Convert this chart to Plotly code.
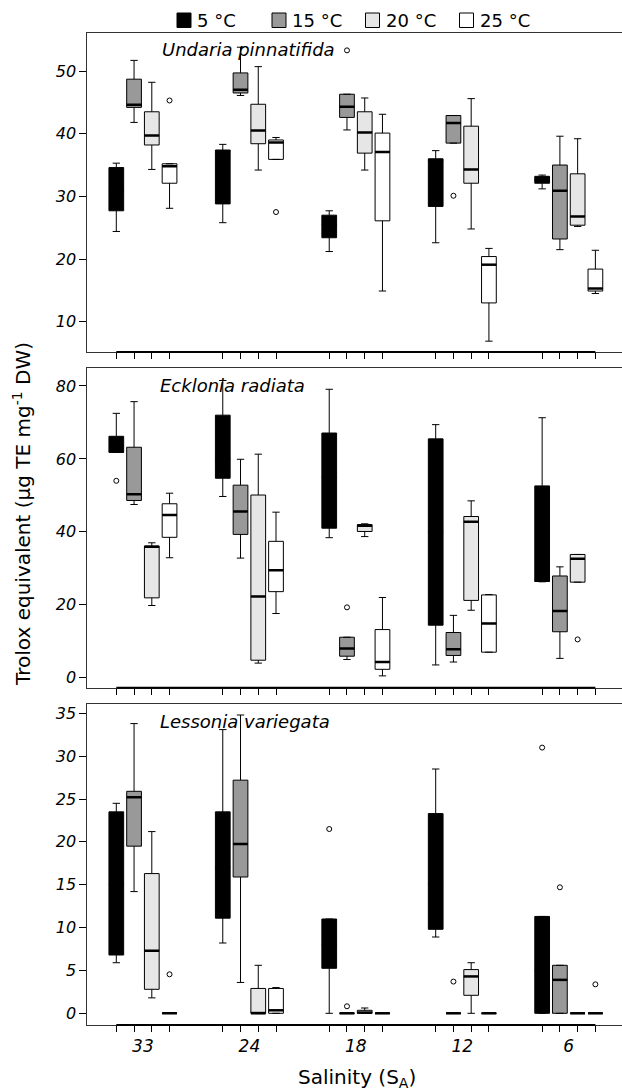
import plotly.graph_objects as go

# ---------------- data ----------------
salinity = ["33", "24", "18", "12", "6"]
temps = ["5 °C", "15 °C", "20 °C", "25 °C"]
fills = ["#000000", "#999999", "#e6e6e6", "#ffffff"]
species = ["Undaria pinnatifida", "Ecklonia radiata", "Lessonia variegata"]

# Undaria pinnatifida (per temperature: values for salinity 33,24,18,12,6)
und_lf = [[24.4, 25.8, 21.2, 22.6, 31.2], [41.8, 46.1, 40.6, 38.5, 21.5],
          [34.3, 34.2, 34.2, 24.8, 25.2], [28.1, 35.9, 14.9, 6.9, 14.5]]
und_q1 = [[27.7, 28.8, 23.4, 28.4, 32.1], [44.2, 46.5, 42.6, 38.5, 23.2],
          [38.2, 38.4, 36.9, 32.1, 25.4], [32.1, 35.9, 26.1, 13.0, 14.9]]
und_med = [[31.0, 37.2, 25.5, 35.7, 32.6], [44.6, 47.0, 44.3, 41.7, 30.9],
           [39.7, 40.5, 40.2, 34.3, 26.8], [34.8, 38.6, 37.1, 19.1, 15.3]]
und_q3 = [[34.6, 37.4, 27.0, 36.0, 33.2], [48.7, 49.7, 46.3, 42.9, 35.0],
          [43.5, 44.7, 43.5, 41.2, 33.6], [35.2, 39.0, 40.1, 20.4, 18.4]]
und_uf = [[35.3, 38.3, 27.7, 37.3, 33.4], [51.7, 53.8, 46.3, 42.9, 39.6],
          [48.2, 50.7, 45.7, 45.6, 39.2], [35.2, 39.4, 43.1, 21.7, 21.4]]
und_out = [[], [(2, 53.3), (3, 30.1)], [], [(0, 45.3), (1, 27.5)]]

# Ecklonia radiata
eck_lf = [[61.8, 49.7, 38.4, 3.5, 26.3], [47.5, 32.8, 5.0, 4.3, 5.3],
          [19.8, 4.0, 38.7, 18.5, 26.2], [32.9, 17.6, 0.5, 7.0, None]]
eck_q1 = [[61.8, 54.7, 41.0, 14.4, 26.4], [48.6, 39.3, 5.9, 6.1, 12.6],
          [21.9, 4.8, 40.1, 21.2, 26.2], [38.5, 23.6, 2.3, 7.0, None]]
eck_med = [[62.0, 60.0, 55.0, 40.0, 26.6], [50.3, 45.6, 8.0, 7.8, 18.3],
           [35.9, 22.3, 41.7, 42.8, 32.6], [44.6, 29.5, 4.3, 14.9, None]]
eck_q3 = [[66.2, 72.0, 67.1, 65.5, 52.6], [63.2, 52.8, 11.1, 12.4, 27.9],
          [36.1, 50.1, 42.0, 44.2, 33.8], [47.7, 37.4, 13.2, 22.7, None]]
eck_uf = [[72.5, 81.5, 79.1, 69.4, 71.3], [75.7, 59.9, 11.1, 17.1, 30.4],
          [37.0, 61.3, 42.2, 48.5, 33.8], [50.6, 45.4, 22.0, 22.8, None]]
eck_out = [[(0, 54.0)], [(2, 19.3)], [(4, 10.5)], []]

# Lessonia variegata
les_lf = [[5.9, 8.2, 0.0, 8.9, 0.0], [14.2, 3.6, 0.0, 0.0, 0.0],
          [1.8, 0.0, 0.0, 0.0, 0.0], [0.0, 0.0, 0.0, 0.0, 0.0]]
les_q1 = [[6.8, 11.1, 5.25, 9.8, 0.0], [19.5, 15.9, 0.0, 0.0, 0.0],
          [2.8, 0.0, 0.0, 2.1, 0.0], [0.0, 0.0, 0.0, 0.0, 0.0]]
les_med = [[15.0, 17.0, 8.0, 15.0, 5.0], [25.2, 19.75, 0.0, 0.0, 3.9],
           [7.3, 0.0, 0.08, 4.3, 0.0], [0.0, 0.35, 0.0, 0.0, 0.0]]
les_q3 = [[23.5, 23.5, 11.0, 23.3, 11.3], [25.9, 27.2, 0.0, 0.0, 5.6],
          [16.3, 2.9, 0.35, 5.1, 0.0], [0.0, 2.9, 0.0, 0.0, 0.0]]
les_uf = [[24.5, 33.1, 11.0, 28.5, 11.3], [33.8, 34.8, 0.0, 0.0, 5.6],
          [21.2, 5.6, 0.62, 5.9, 0.0], [0.0, 3.0, 0.0, 0.0, 0.0]]
les_out = [[(2, 21.5), (4, 31.0)], [(2, 0.82), (3, 3.7), (4, 14.7)], [], [(0, 4.55), (4, 3.38)]]

y_ticks = [[10, 20, 30, 40, 50], [0, 20, 40, 60, 80], [0, 5, 10, 15, 20, 25, 30, 35]]
y_ranges = [[5.17, 56.02], [-2.74, 84.85], [-1.365, 36.05]]

panels = [
    (und_lf, und_q1, und_med, und_q3, und_uf, und_out),
    (eck_lf, eck_q1, eck_med, eck_q3, eck_uf, eck_out),
    (les_lf, les_q1, les_med, les_q3, les_uf, les_out),
]

# ---------------- layout constants ----------------
W, H = 622, 1090
GROUP_STEP = 6
BOX_W = 0.83
positions = [GROUP_STEP * g + j for g in range(len(salinity)) for j in range(len(temps))]
centers = [GROUP_STEP * g + (len(temps) - 1) / 2 for g in range(len(salinity))]

# vertical pixel extents of the 3 panels (top, bottom)
panel_px = [(33.3, 352.0), (368.3, 687.7), (704.3, 1025.0)]
title_px = [(160.0, 50.0), (158.0, 386.0), (158.0, 721.7)]
x_dom = [87.3 / W, 1.0]
x_rng = [-1.635, 28.5]

FONT = "DejaVu Sans"

fig = go.Figure()

for p, (lf, q1, med, q3, uf, outs) in enumerate(panels):
    xa = "x" if p == 0 else f"x{p+1}"
    ya = "y" if p == 0 else f"y{p+1}"
    for t in range(len(temps)):
        xs, L, Q1, M, Q3, U = [], [], [], [], [], []
        for g in range(len(salinity)):
            if lf[t][g] is None:
                continue
            xs.append(GROUP_STEP * g + t)
            L.append(lf[t][g]); Q1.append(q1[t][g]); M.append(med[t][g])
            Q3.append(q3[t][g]); U.append(uf[t][g])
        fig.add_trace(go.Box(
            x=xs, q1=Q1, median=M, q3=Q3, lowerfence=L, upperfence=U,
            width=BOX_W, whiskerwidth=0.5, fillcolor=fills[t],
            line=dict(color="black", width=1), boxpoints=False,
            xaxis=xa, yaxis=ya, showlegend=False, hoverinfo="skip"))
        # thick median segments
        mx, my = [], []
        for x0, m in zip(xs, M):
            mx += [x0 - BOX_W / 2, x0 + BOX_W / 2, None]
            my += [m, m, None]
        fig.add_trace(go.Scatter(x=mx, y=my, mode="lines",
                                 line=dict(color="black", width=2.5),
                                 xaxis=xa, yaxis=ya, showlegend=False, hoverinfo="skip"))
        # outliers
        if outs[t]:
            fig.add_trace(go.Scatter(
                x=[GROUP_STEP * g + t for g, v in outs[t]],
                y=[v for g, v in outs[t]], mode="markers",
                marker=dict(symbol="circle-open", size=5, color="black",
                            line=dict(width=1)),
                xaxis=xa, yaxis=ya, showlegend=False, hoverinfo="skip"))

layout = dict(
    width=W, height=H, margin=dict(l=0, r=0, t=0, b=0),
    paper_bgcolor="white", plot_bgcolor="white", showlegend=False,
    boxmode="overlay",
)
shapes, annotations = [], []
for p in range(3):
    top, bot = panel_px[p]
    xk = "xaxis" if p == 0 else f"xaxis{p+1}"
    yk = "yaxis" if p == 0 else f"yaxis{p+1}"
    ya = "y" if p == 0 else f"y{p+1}"
    xa = "x" if p == 0 else f"x{p+1}"
    xax = dict(
        domain=x_dom, range=x_rng, anchor=ya, showgrid=False, zeroline=False,
        showline=True, mirror=True, linecolor="#333333", linewidth=1,
        tickmode="array", tickvals=centers,
        showticklabels=(p == 2), ticks="outside", ticklen=6,
        tickcolor="rgba(0,0,0,0)",
        tickfont=dict(family=FONT, size=17, color="black", style="italic"),
        minor=dict(tickmode="array", tickvals=positions, ticks="outside",
                   ticklen=6, tickwidth=1, tickcolor="black", showgrid=False),
    )
    if p == 2:
        xax["ticktext"] = salinity
    layout[xk] = xax
    layout[yk] = dict(
        domain=[1 - bot / H, 1 - top / H], range=y_ranges[p], anchor=xa,
        showgrid=False, zeroline=False, showline=True, mirror=False,
        linecolor="#333333", linewidth=1, tickmode="array", tickvals=y_ticks[p],
        ticks="outside", ticklen=7, tickcolor="black",
        tickfont=dict(family=FONT, size=16, color="black", style="italic"),
    )
    # R-style thick axis line spanning first to last tick
    shapes.append(dict(type="line", xref=xa, yref=f"{ya} domain",
                       x0=positions[0], x1=positions[-1], y0=0, y1=0,
                       line=dict(color="black", width=2)))
    tx, ty = title_px[p]
    annotations.append(dict(text=species[p], xref="paper", yref="paper",
                            x=tx / W, y=1 - ty / H, xanchor="left", yanchor="middle",
                            showarrow=False,
                            font=dict(family=FONT, size=18, color="black", style="italic")))

# legend (manual)
leg_box_x = [177, 272, 365.5, 459.5]
for t in range(len(temps)):
    x0 = leg_box_x[t]
    shapes.append(dict(type="rect", xref="paper", yref="paper",
                       x0=x0 / W, x1=(x0 + 14) / W, y0=1 - 27.5 / H, y1=1 - 13 / H,
                       fillcolor=fills[t], line=dict(color="black", width=1)))
    annotations.append(dict(text=temps[t], xref="paper", yref="paper",
                            x=(x0 + 18) / W, y=1 - 20.5 / H, xanchor="left",
                            yanchor="middle", showarrow=False,
                            font=dict(family=FONT, size=18, color="black")))

annotations.append(dict(text="Trolox equivalent (µg TE mg<sup>-1</sup> DW)",
                        xref="paper", yref="paper", x=22 / W, y=1 - 514 / H,
                        xanchor="center", yanchor="middle", textangle=-90,
                        showarrow=False, font=dict(family=FONT, size=20, color="black")))
annotations.append(dict(text="Salinity (S<sub>A</sub>)", xref="paper", yref="paper",
                        x=357 / W, y=1 - 1078 / H, xanchor="center", yanchor="middle",
                        showarrow=False, font=dict(family=FONT, size=20, color="black")))

layout["shapes"] = shapes
layout["annotations"] = annotations
fig.update_layout(**layout)
fig.write_html("out.html", config={"displayModeBar": False, "staticPlot": True},
               post_script="document.body.style.margin='0';document.body.style.overflow='hidden';")
